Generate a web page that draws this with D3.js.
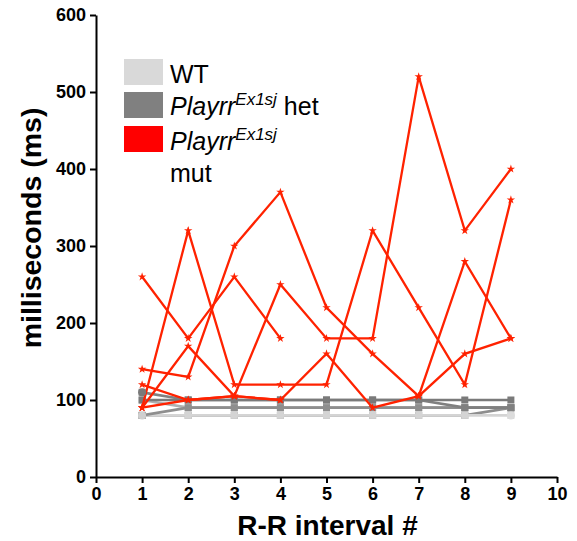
<!DOCTYPE html>
<html>
<head>
<meta charset="utf-8">
<script src="https://cdn.jsdelivr.net/npm/d3@7"></script>
<style>
  html, body { margin: 0; padding: 0; background: #fff; }
  svg { display: block; font-family: "Liberation Sans", Arial, sans-serif; }
</style>
</head>
<body>
<svg id="chart" width="577" height="541"></svg>
<script>
// ---- data ----
const xTicks = [0,1,2,3,4,5,6,7,8,9,10];
const yTicks = [0,100,200,300,400,500,600];
const intervals = [1,2,3,4,5,6,7,8,9];

// WT
const wt1 = [80,80,80,80,80,80,80,80,80];
const wt2 = [100,90,90,90,90,90,90,90,90];
// Playrr het
const het1 = [100,100,100,100,100,100,100,100,100];
const het2 = [110,100,100,100,100,100,100,90,90];
const het3 = [80,90,90,90,90,90,90,90,90];
const het4 = [80,80,80,80,80,80,80,80,90];
// Playrr mut
const mut1 = [260,180,260,180];
const mut2 = [90,320,120,120,120,320,220,120,360];
const mut3 = [90,170,105,250,180,180,520,320,400];
const mut4 = [140,130,300,370,220,160,105,280,180];
const mut5 = [120,100,105,100,160,90,105,160,180];
const mut6 = [90,100,105,100];

const legendLabels = ["WT", "het", "mut"];

const series = [
  {values: het4, color: "#8e8e8e", marker: "square"},
  {values: wt2,  color: "#b0b0b0", marker: "square"},
  {values: wt1,  color: "#d4d4d4", marker: "square"},
  {values: het3, color: "#8e8e8e", marker: "square"},
  {values: het2, color: "#808080", marker: "square"},
  {values: het1, color: "#7a7a7a", marker: "square"},
  {values: mut6, color: "#ff2200", marker: "star"},
  {values: mut1, color: "#ff2200", marker: "star"},
  {values: mut2, color: "#ff2200", marker: "star"},
  {values: mut3, color: "#ff2200", marker: "star"},
  {values: mut4, color: "#ff2200", marker: "star"},
  {values: mut5, color: "#ff2200", marker: "star"}
];

// ---- chart ----
const svg = d3.select("#chart");
const x = d3.scaleLinear().domain([0,10]).range([96,557]);
const y = d3.scaleLinear().domain([0,600]).range([477,15]);

const line = d3.line().x((d,i)=>x(intervals[i])).y(d=>y(d));

const g = svg.append("g");
series.forEach(s => {
  const isRed = s.marker === "star";
  g.append("path").datum(s.values)
    .attr("d", line)
    .attr("fill","none")
    .attr("stroke", s.color)
    .attr("stroke-width", isRed ? 2.3 : 2.7)
    .attr("stroke-linejoin","miter");
  const pts = g.selectAll(null).data(s.values).enter();
  if (isRed) {
    pts.append("path")
      .attr("d", d3.symbol().type(d3.symbolStar).size(22))
      .attr("transform",(d,i)=>`translate(${x(intervals[i])},${y(d)})`)
      .attr("fill", s.color);
  } else {
    pts.append("rect")
      .attr("x",(d,i)=>x(intervals[i])-3.5)
      .attr("y",d=>y(d)-3.5)
      .attr("width",7).attr("height",7)
      .attr("fill", s.color);
  }
});
// end circles
g.append("circle").attr("cx",x(1)).attr("cy",y(wt1[0])).attr("r",4).attr("fill","#cfcfcf");
g.append("circle").attr("cx",x(9)).attr("cy",y(wt1[8])).attr("r",4).attr("fill","#dcdcdc");
g.append("circle").attr("cx",x(1)).attr("cy",y(het2[0])).attr("r",4).attr("fill","#7a7a7a");

// axes
const xAxis = svg.append("g").attr("transform","translate(0,477)")
  .call(d3.axisBottom(x).tickValues(xTicks).tickSize(6).tickSizeOuter(0).tickPadding(4).tickFormat(d3.format("d")));
const yAxis = svg.append("g").attr("transform","translate(96,0)")
  .call(d3.axisLeft(y).tickValues(yTicks).tickSize(6).tickSizeOuter(0).tickPadding(4).tickFormat(d3.format("d")));
[xAxis, yAxis].forEach(a => {
  a.select(".domain").attr("stroke","#000").attr("stroke-width",2);
  a.selectAll(".tick line").attr("stroke","#000").attr("stroke-width",2);
  a.selectAll(".tick text").attr("fill","#000")
    .style("font-size","18px").style("font-weight","bold")
    .style("font-family","'Liberation Sans', Arial, sans-serif");
});

// axis titles
svg.append("text").attr("x",(x(0)+x(10))/2 + 1).attr("y",535)
  .attr("text-anchor","middle").style("font-size","28px").style("font-weight","bold")
  .text("R-R interval #");
svg.append("text").attr("transform","translate(41,228) rotate(-90)")
  .attr("text-anchor","middle").style("font-size","28.5px").style("font-weight","bold")
  .text("milliseconds (ms)");

// legend
const legend = svg.append("g");
const sw = [{c:"#d9d9d9", y:59},{c:"#808080", y:92},{c:"#ff0000", y:126}];
sw.forEach(s => legend.append("rect").attr("x",124).attr("y",s.y).attr("width",39).attr("height",26).attr("fill",s.c));

legend.append("text").attr("x",170).attr("y",83).style("font-size","25px").text(legendLabels[0]);

function playrr(yb, suffix) {
  const t = legend.append("text").attr("x",170).attr("y",yb).style("font-size","25px");
  t.append("tspan").style("font-style","italic").text("Playrr");
  t.append("tspan").style("font-style","italic").style("font-size","17px").attr("dy",-10).text("Ex1sj");
  if (suffix) t.append("tspan").attr("dy",10).text(" " + suffix);
}
playrr(115, legendLabels[1]);
playrr(150, null);
legend.append("text").attr("x",170).attr("y",182).style("font-size","25px").text(legendLabels[2]);
</script>
</body>
</html>
